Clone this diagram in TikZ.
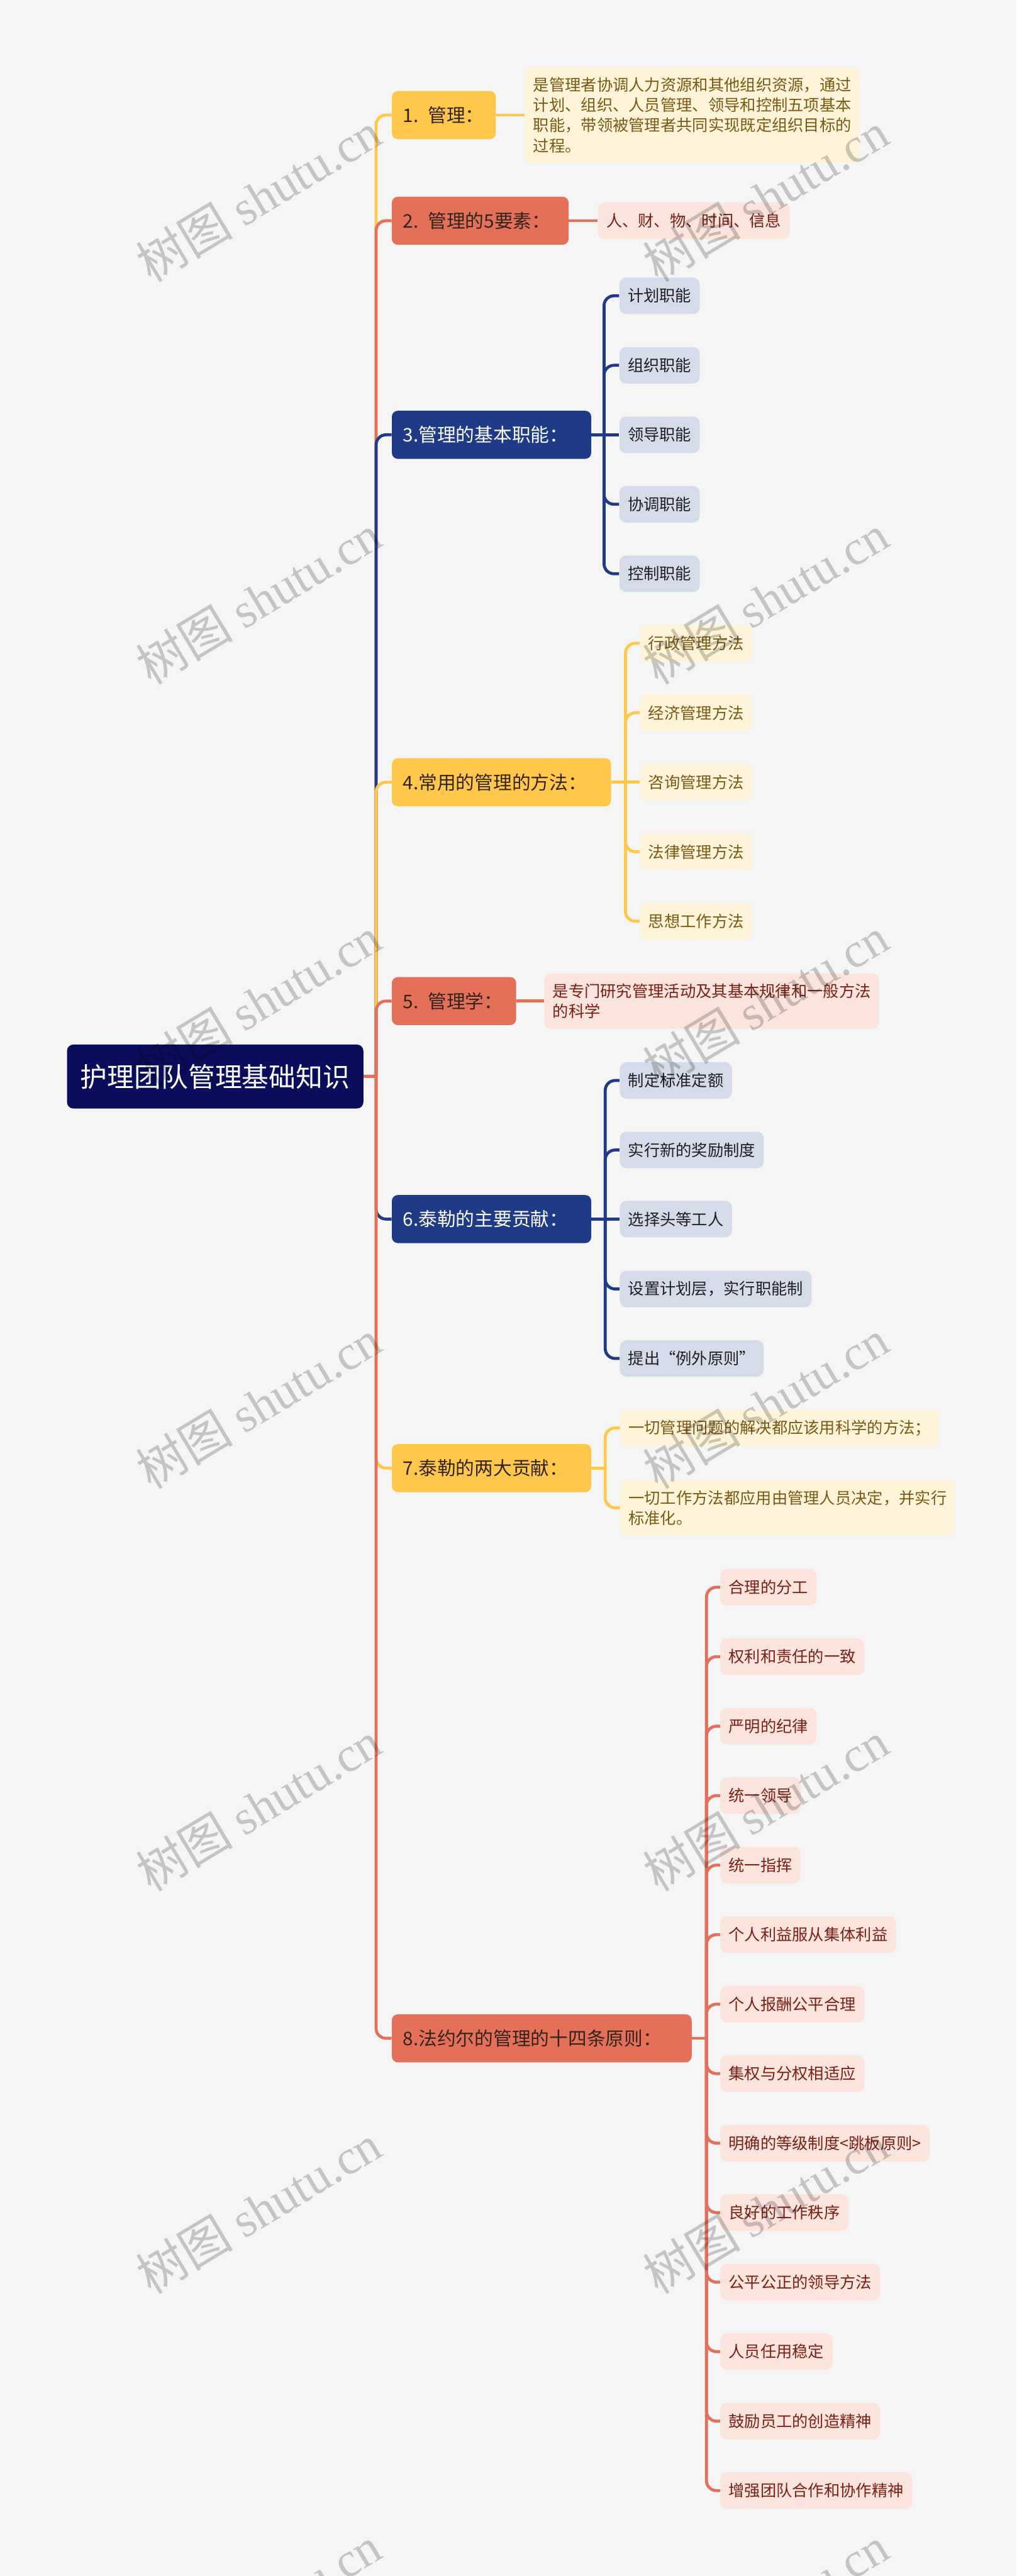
\documentclass[tikz,border=0pt]{standalone}
\usepackage{fontspec}
\setmainfont{Noto Sans CJK SC}
\newfontfamily\wmfont{Liberation Serif}
\usepackage{xcolor}
\usepackage{tikz}
\definecolor{BGray}{HTML}{F5F5F5}
\definecolor{RootNavy}{HTML}{0A0D5C}
\definecolor{TopYellow}{HTML}{FFC84B}
\definecolor{TopCoral}{HTML}{E4705A}
\definecolor{TopNavy}{HTML}{1F3A87}
\definecolor{LeafYellow}{HTML}{FFF4DA}
\definecolor{LeafCoral}{HTML}{FBE4DC}
\definecolor{LeafNavy}{HTML}{D6DBEA}
\definecolor{InkYellow}{HTML}{7A5912}
\definecolor{InkCoral}{HTML}{7C1F14}
\definecolor{InkDark}{HTML}{33241A}
\definecolor{InkNavy}{HTML}{1E1E24}
\pgfdeclarelayer{back}
\pgfdeclarelayer{links}
\pgfsetlayers{back,links,main}

\begin{document}
\begin{tikzpicture}[x=1cm,y=1cm,
  rootbox/.style={fill=RootNavy,text=white,rounded corners=0.16cm,minimum height=1.61cm,inner xsep=0.34cm,anchor=west,font=\fontsize{19.3pt}{23pt}\selectfont},
  topic/.style={rounded corners=0.15cm,minimum height=1.21cm,inner xsep=0.28cm,anchor=west,align=left,font=\fontsize{13.4pt}{16pt}\selectfont},
  leaf/.style={rounded corners=0.17cm,minimum height=0.92cm,inner xsep=0.21cm,inner ysep=0.26cm,anchor=west,align=left,font=\fontsize{11.4pt}{14.5pt}\selectfont},
  link/.style={line width=0.075cm},
  wmark/.style={text=black,text opacity=0.2,rotate=31,font=\fontsize{35pt}{40pt}\selectfont}]
\path[use as bounding box] (0,0) rectangle (25.60,64.87);
\begin{pgfonlayer}{back}
\fill[BGray] (0,0) rectangle (25.60,64.87);
\end{pgfonlayer}

\node[rootbox] (root) at (1.68,37.76) {护理团队管理基础知识};

\node[topic,fill=TopYellow,text=InkDark,text width=2.06cm] (t1) at (9.86,61.97) {1. 管理：};
\node[topic,fill=TopCoral,text=InkDark,text width=3.89cm] (t2) at (9.86,59.31) {2. 管理的5要素：};
\node[topic,fill=TopNavy,text=white,text width=4.46cm] (t3) at (9.86,53.92) {3.管理的基本职能：};
\node[topic,fill=TopYellow,text=InkDark,text width=4.96cm] (t4) at (9.86,45.17) {4.常用的管理的方法：};
\node[topic,fill=TopCoral,text=InkDark,text width=2.57cm] (t5) at (9.86,39.66) {5. 管理学：};
\node[topic,fill=TopNavy,text=white,text width=4.46cm] (t6) at (9.86,34.17) {6.泰勒的主要贡献：};
\node[topic,fill=TopYellow,text=InkDark,text width=4.46cm] (t7) at (9.86,27.90) {7.泰勒的两大贡献：};
\node[topic,fill=TopCoral,text=InkDark,text width=6.99cm] (t8) at (9.86,13.54) {8.法约尔的管理的十四条原则：};

\node[leaf,fill=LeafYellow,text=InkYellow] (d1) at (13.21,61.97) {是管理者协调人力资源和其他组织资源，通过\\计划、组织、人员管理、领导和控制五项基本\\职能，带领被管理者共同实现既定组织目标的\\过程。};
\node[leaf,fill=LeafCoral,text=InkCoral] (d2) at (15.05,59.31) {人、财、物、时间、信息};

\node[leaf,fill=LeafNavy,text=InkNavy] (f31) at (15.59,57.42) {计划职能};
\node[leaf,fill=LeafNavy,text=InkNavy] (f32) at (15.59,55.67) {组织职能};
\node[leaf,fill=LeafNavy,text=InkNavy] (f33) at (15.59,53.92) {领导职能};
\node[leaf,fill=LeafNavy,text=InkNavy] (f34) at (15.59,52.17) {协调职能};
\node[leaf,fill=LeafNavy,text=InkNavy] (f35) at (15.59,50.42) {控制职能};

\node[leaf,fill=LeafYellow,text=InkYellow] (f41) at (16.11,48.67) {行政管理方法};
\node[leaf,fill=LeafYellow,text=InkYellow] (f42) at (16.11,46.92) {经济管理方法};
\node[leaf,fill=LeafYellow,text=InkYellow] (f43) at (16.11,45.17) {咨询管理方法};
\node[leaf,fill=LeafYellow,text=InkYellow] (f44) at (16.11,43.42) {法律管理方法};
\node[leaf,fill=LeafYellow,text=InkYellow] (f45) at (16.11,41.67) {思想工作方法};

\node[leaf,fill=LeafCoral,text=InkCoral] (d5) at (13.70,39.66) {是专门研究管理活动及其基本规律和一般方法\\的科学};

\node[leaf,fill=LeafNavy,text=InkNavy] (f61) at (15.60,37.66) {制定标准定额};
\node[leaf,fill=LeafNavy,text=InkNavy] (f62) at (15.60,35.91) {实行新的奖励制度};
\node[leaf,fill=LeafNavy,text=InkNavy] (f63) at (15.60,34.17) {选择头等工人};
\node[leaf,fill=LeafNavy,text=InkNavy] (f64) at (15.60,32.41) {设置计划层，实行职能制};
\node[leaf,fill=LeafNavy,text=InkNavy] (f65) at (15.60,30.66) {提出“例外原则”};

\node[leaf,fill=LeafYellow,text=InkYellow] (f71) at (15.61,28.91) {一切管理问题的解决都应该用科学的方法；};
\node[leaf,fill=LeafYellow,text=InkYellow] (f72) at (15.61,26.90) {一切工作方法都应用由管理人员决定，并实行\\标准化。};

\node[leaf,fill=LeafCoral,text=InkCoral] (f801) at (18.13,24.90) {合理的分工};
\node[leaf,fill=LeafCoral,text=InkCoral] (f802) at (18.13,23.15) {权利和责任的一致};
\node[leaf,fill=LeafCoral,text=InkCoral] (f803) at (18.13,21.40) {严明的纪律};
\node[leaf,fill=LeafCoral,text=InkCoral] (f804) at (18.13,19.65) {统一领导};
\node[leaf,fill=LeafCoral,text=InkCoral] (f805) at (18.13,17.90) {统一指挥};
\node[leaf,fill=LeafCoral,text=InkCoral] (f806) at (18.13,16.15) {个人利益服从集体利益};
\node[leaf,fill=LeafCoral,text=InkCoral] (f807) at (18.13,14.40) {个人报酬公平合理};
\node[leaf,fill=LeafCoral,text=InkCoral] (f808) at (18.13,12.65) {集权与分权相适应};
\node[leaf,fill=LeafCoral,text=InkCoral] (f809) at (18.13,10.90) {明确的等级制度<跳板原则>};
\node[leaf,fill=LeafCoral,text=InkCoral] (f810) at (18.13,9.15) {良好的工作秩序};
\node[leaf,fill=LeafCoral,text=InkCoral] (f811) at (18.13,7.40) {公平公正的领导方法};
\node[leaf,fill=LeafCoral,text=InkCoral] (f812) at (18.13,5.65) {人员任用稳定};
\node[leaf,fill=LeafCoral,text=InkCoral] (f813) at (18.13,3.90) {鼓励员工的创造精神};
\node[leaf,fill=LeafCoral,text=InkCoral] (f814) at (18.13,2.15) {增强团队合作和协作精神};

\begin{pgfonlayer}{links}
\coordinate (jroot) at (9.47,37.76);
\draw[link,TopYellow,rounded corners=0.25cm] (jroot) |- (t1.west);
\draw[link,TopCoral,rounded corners=0.25cm] (jroot) |- (t2.west);
\draw[link,TopNavy,rounded corners=0.25cm] (jroot) |- (t3.west);
\draw[link,TopYellow,rounded corners=0.25cm] (jroot) |- (t4.west);
\draw[link,TopCoral,rounded corners=0.25cm] (jroot) |- (t5.west);
\draw[link,TopNavy,rounded corners=0.25cm] (jroot) |- (t6.west);
\draw[link,TopYellow,rounded corners=0.25cm] (jroot) |- (t7.west);
\draw[link,TopCoral,rounded corners=0.25cm] (jroot) |- (t8.west);
\draw[link,TopCoral] (root.east) -- (jroot);

\draw[link,TopYellow] (t1.east) -- (d1.west);
\draw[link,TopCoral] (t2.east) -- (d2.west);

\coordinate (j3) at (15.21,53.92);
\draw[link,TopNavy] (t3.east) -- (j3);
\draw[link,TopNavy,rounded corners=0.25cm] (j3) |- (f31.west);
\draw[link,TopNavy,rounded corners=0.25cm] (j3) |- (f32.west);
\draw[link,TopNavy] (j3) -- (f33.west);
\draw[link,TopNavy,rounded corners=0.25cm] (j3) |- (f34.west);
\draw[link,TopNavy,rounded corners=0.25cm] (j3) |- (f35.west);

\coordinate (j4) at (15.75,45.17);
\draw[link,TopYellow] (t4.east) -- (j4);
\draw[link,TopYellow,rounded corners=0.25cm] (j4) |- (f41.west);
\draw[link,TopYellow,rounded corners=0.25cm] (j4) |- (f42.west);
\draw[link,TopYellow] (j4) -- (f43.west);
\draw[link,TopYellow,rounded corners=0.25cm] (j4) |- (f44.west);
\draw[link,TopYellow,rounded corners=0.25cm] (j4) |- (f45.west);

\draw[link,TopCoral] (t5.east) -- (d5.west);

\coordinate (j6) at (15.24,34.17);
\draw[link,TopNavy] (t6.east) -- (j6);
\draw[link,TopNavy,rounded corners=0.25cm] (j6) |- (f61.west);
\draw[link,TopNavy,rounded corners=0.25cm] (j6) |- (f62.west);
\draw[link,TopNavy] (j6) -- (f63.west);
\draw[link,TopNavy,rounded corners=0.25cm] (j6) |- (f64.west);
\draw[link,TopNavy,rounded corners=0.25cm] (j6) |- (f65.west);

\coordinate (j7) at (15.24,27.90);
\draw[link,TopYellow] (t7.east) -- (j7);
\draw[link,TopYellow,rounded corners=0.25cm] (j7) |- (f71.west);
\draw[link,TopYellow,rounded corners=0.25cm] (j7) |- (f72.west);

\coordinate (j8) at (17.79,13.54);
\draw[link,TopCoral] (t8.east) -- (j8);
\draw[link,TopCoral,rounded corners=0.25cm] (j8) |- (f801.west);
\draw[link,TopCoral,rounded corners=0.25cm] (j8) |- (f802.west);
\draw[link,TopCoral,rounded corners=0.25cm] (j8) |- (f803.west);
\draw[link,TopCoral,rounded corners=0.25cm] (j8) |- (f804.west);
\draw[link,TopCoral,rounded corners=0.25cm] (j8) |- (f805.west);
\draw[link,TopCoral,rounded corners=0.25cm] (j8) |- (f806.west);
\draw[link,TopCoral,rounded corners=0.25cm] (j8) |- (f807.west);
\draw[link,TopCoral,rounded corners=0.25cm] (j8) |- (f808.west);
\draw[link,TopCoral,rounded corners=0.25cm] (j8) |- (f809.west);
\draw[link,TopCoral,rounded corners=0.25cm] (j8) |- (f810.west);
\draw[link,TopCoral,rounded corners=0.25cm] (j8) |- (f811.west);
\draw[link,TopCoral,rounded corners=0.25cm] (j8) |- (f812.west);
\draw[link,TopCoral,rounded corners=0.25cm] (j8) |- (f813.west);
\draw[link,TopCoral,rounded corners=0.25cm] (j8) |- (f814.west);
\end{pgfonlayer}

\node[wmark] (wl1) at (6.51,59.91) {树图 \wmfont shutu.cn};
\node[wmark] (wl2) at (6.51,49.77) {树图 \wmfont shutu.cn};
\node[wmark] (wl3) at (6.51,39.64) {树图 \wmfont shutu.cn};
\node[wmark] (wl4) at (6.51,29.51) {树图 \wmfont shutu.cn};
\node[wmark] (wl5) at (6.51,19.38) {树图 \wmfont shutu.cn};
\node[wmark] (wl6) at (6.51,9.24) {树图 \wmfont shutu.cn};
\node[wmark] (wl7) at (6.51,-0.89) {树图 \wmfont shutu.cn};
\node[wmark] (wr1) at (19.28,59.91) {树图 \wmfont shutu.cn};
\node[wmark] (wr2) at (19.28,49.77) {树图 \wmfont shutu.cn};
\node[wmark] (wr3) at (19.28,39.64) {树图 \wmfont shutu.cn};
\node[wmark] (wr4) at (19.28,29.51) {树图 \wmfont shutu.cn};
\node[wmark] (wr5) at (19.28,19.38) {树图 \wmfont shutu.cn};
\node[wmark] (wr6) at (19.28,9.24) {树图 \wmfont shutu.cn};
\node[wmark] (wr7) at (19.28,-0.89) {树图 \wmfont shutu.cn};
\end{tikzpicture}
\end{document}
